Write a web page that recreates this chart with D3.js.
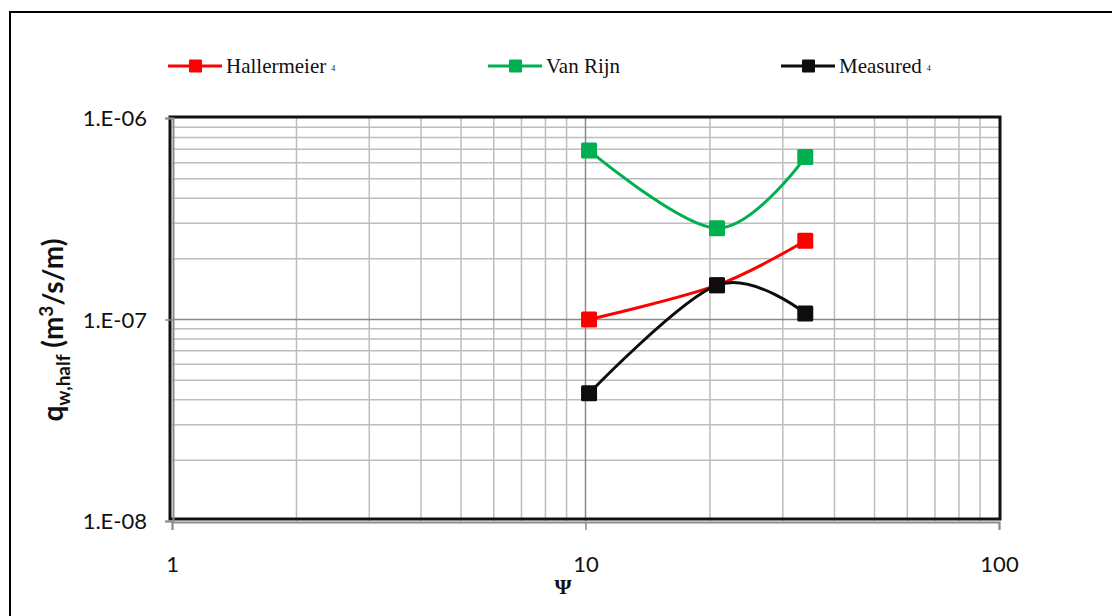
<!DOCTYPE html>
<html>
<head>
<meta charset="utf-8">
<script src="https://cdn.jsdelivr.net/npm/d3@7"></script>
<style>
  body { margin: 0; background: #fff; }
  svg { display: block; }
</style>
</head>
<body>
<svg id="chart"></svg>
<script>
// data
const psi = [10.2, 20.8, 34.0];
const hallermeier = [1.0e-7, 1.48e-7, 2.46e-7];
const vanRijn = [6.9e-7, 2.84e-7, 6.4e-7];
const measured = [4.3e-8, 1.48e-7, 1.07e-7];
const seriesNames = ["Hallermeier", "Van Rijn", "Measured"];
const seriesColors = ["#ff0000", "#00b050", "#0d0d0d"];
const xTickValues = [1, 10, 100];
const xTickLabels = ["1", "10", "100"];
const yTickValues = [1e-8, 1e-7, 1e-6];
const yTickLabels = ["1.E-08", "1.E-07", "1.E-06"];

const width = 1112, height = 616;
const margin = { top: 118, right: 112, bottom: 95, left: 172 };
const innerWidth = 999 - margin.left;
const innerHeight = 521 - margin.top;

const svg = d3.select("#chart").attr("width", width).attr("height", height);

// outer chart frame (only left and top edges show)
svg.append("path")
  .attr("d", `M10,${height} V12 H${width}`)
  .attr("fill", "none").attr("stroke", "#000").attr("stroke-width", 2);

const g = svg.append("g").attr("transform", `translate(${margin.left}, ${margin.top})`);

const xScale = d3.scaleLog().domain([1, 100]).range([0, innerWidth]);
const yScale = d3.scaleLog().domain([1e-8, 1e-6]).range([innerHeight, 0]);

// minor and major grid
const xGrid = [];
for (let d = 1; d < 100; d *= 10) for (let k = 2; k <= 9; k++) xGrid.push(d * k);
const yGrid = [];
for (let d = 1e-8; d < 1e-6 * 0.99; d *= 10) for (let k = 2; k <= 9; k++) yGrid.push(d * k);

g.append("g").selectAll("line").data(xGrid).join("line")
  .attr("x1", d => xScale(d)).attr("x2", d => xScale(d))
  .attr("y1", 0).attr("y2", innerHeight)
  .attr("stroke", "#bdbdbd").attr("stroke-width", 1.5);
g.append("g").selectAll("line").data(yGrid).join("line")
  .attr("x1", 0).attr("x2", innerWidth)
  .attr("y1", d => yScale(d)).attr("y2", d => yScale(d))
  .attr("stroke", "#bdbdbd").attr("stroke-width", 1.5);
g.append("line")
  .attr("x1", xScale(10)).attr("x2", xScale(10)).attr("y1", 0).attr("y2", innerHeight)
  .attr("stroke", "#8a8a8a").attr("stroke-width", 1.5);
g.append("line")
  .attr("x1", 0).attr("x2", innerWidth).attr("y1", yScale(1e-7)).attr("y2", yScale(1e-7))
  .attr("stroke", "#8a8a8a").attr("stroke-width", 1.5);

// plot area border
g.append("rect")
  .attr("x", -2).attr("y", -1)
  .attr("width", innerWidth + 3).attr("height", innerHeight - 1)
  .attr("fill", "none").attr("stroke", "#111").attr("stroke-width", 3);

// axes
const xAxis = d3.axisBottom(xScale).tickValues(xTickValues)
  .tickFormat((d, i) => xTickLabels[i]).tickSize(8).tickPadding(26);
const yAxis = d3.axisLeft(yScale).tickValues(yTickValues)
  .tickFormat((d, i) => yTickLabels[i]).tickSize(8).tickPadding(18);

const gx = g.append("g").attr("transform", `translate(0, ${innerHeight + 1})`).call(xAxis);
const gy = g.append("g").attr("transform", "translate(1, 0)").call(yAxis);
[gx, gy].forEach(a => {
  a.select(".domain").attr("stroke", "#8c8c8c").attr("stroke-width", 2);
  a.selectAll(".tick line").attr("stroke", "#8c8c8c").attr("stroke-width", 1.5);
  a.selectAll(".tick text")
    .attr("fill", "#111")
    .style("font-family", "Lato, 'Open Sans', sans-serif")
    .style("font-size", "22px");
});
gy.selectAll(".tick text").attr("dy", "0.35em");

// series
const allSeries = [hallermeier, vanRijn, measured];
const line = d3.line()
  .x(d => xScale(d[0]))
  .y(d => yScale(d[1]))
  .curve(d3.curveCatmullRom.alpha(0));

allSeries.forEach((vals, i) => {
  const pts = psi.map((x, j) => [x, vals[j]]);
  g.append("path")
    .datum(pts)
    .attr("fill", "none")
    .attr("stroke", seriesColors[i])
    .attr("stroke-width", 3)
    .attr("d", line);
  g.append("g").selectAll("rect").data(pts).join("rect")
    .attr("x", d => xScale(d[0]) - 8)
    .attr("y", d => yScale(d[1]) - 8)
    .attr("width", 16).attr("height", 16)
    .attr("rx", 1.5)
    .attr("fill", seriesColors[i]);
});

// legend
const legendX = [168, 488, 781];
const legend = svg.append("g").attr("transform", "translate(0, 66)");
seriesNames.forEach((name, i) => {
  const lg = legend.append("g").attr("transform", `translate(${legendX[i]}, 0)`);
  lg.append("line").attr("x1", 0).attr("x2", 54).attr("y1", 0).attr("y2", 0)
    .attr("stroke", seriesColors[i]).attr("stroke-width", 3);
  lg.append("rect").attr("x", 21).attr("y", -6.5).attr("width", 13).attr("height", 13)
    .attr("rx", 1).attr("fill", seriesColors[i]);
  const t = lg.append("text").attr("x", 58).attr("y", 7)
    .style("font-family", "'Liberation Serif', 'Times New Roman', serif")
    .style("font-size", "21px")
    .attr("fill", "#111")
    .text(name);
  if (i !== 1) {
    t.append("tspan").attr("dx", 5).attr("dy", -2)
      .style("font-size", "8px").text("4");
  }
});

// y axis title
svg.append("text")
  .attr("transform", "translate(63, 330) rotate(-90)")
  .attr("text-anchor", "middle")
  .style("font-family", "Lato, 'Open Sans', sans-serif")
  .style("font-weight", "bold")
  .style("font-size", "28px")
  .attr("fill", "#111")
  .call(t => {
    t.append("tspan").text("q");
    t.append("tspan").attr("dy", 7).style("font-size", "19px").text("w,half");
    t.append("tspan").attr("dy", -7).text(" (m");
    t.append("tspan").attr("dy", -10).style("font-size", "19px").text("3");
    t.append("tspan").attr("dy", 10).text("/s/m)");
  });

// x axis title
svg.append("text")
  .attr("x", 563).attr("y", 594)
  .attr("text-anchor", "middle")
  .style("font-family", "'Liberation Serif', 'Times New Roman', serif")
  .style("font-weight", "bold")
  .style("font-size", "22px")
  .attr("fill", "#111")
  .text("Ψ");
</script>
</body>
</html>
